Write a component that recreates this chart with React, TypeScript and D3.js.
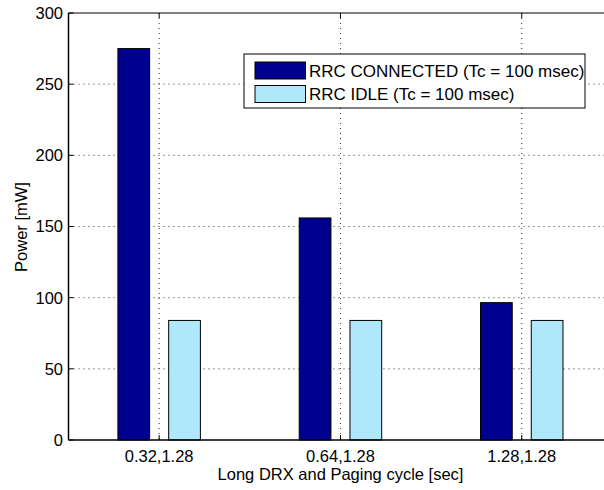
import React from "react";
import * as d3 from "d3";

const categories = ["0.32,1.28", "0.64,1.28", "1.28,1.28"];
const seriesNames = ["RRC CONNECTED (Tc = 100 msec)", "RRC IDLE (Tc = 100 msec)"];
const connectedValues = [275, 156, 96.5];
const idleValues = [84, 84, 84];
const yTicks = [0, 50, 100, 150, 200, 250, 300];
const colors = ["#00008F", "#AEE8FA"];

const W = 604;
const H = 490;
const left = 68.5;
const top = 13;
const bottom = 440;
const FONT = "'Liberation Sans', Arial, Helvetica, sans-serif";

export default function App() {
  const x = d3.scaleLinear().domain([0.5, 3.5]).range([left, left + 3 * 181.3]);
  const y = d3.scaleLinear().domain([0, 300]).range([bottom, top]);
  const right = x(3.5);
  const unit = x(1) - x(0);
  const barW = 0.175 * unit;
  const offsets = [-0.14, 0.14];
  const series = [connectedValues, idleValues];

  return (
    <svg
      width={W}
      height={H}
      style={{ position: "absolute", left: 0, top: 0, display: "block", background: "#fff" }}
      fontFamily={FONT}
    >
      <rect x={0} y={0} width={W} height={H} fill="#fff" />
      {/* grid */}
      {yTicks.slice(1, -1).map((t) => (
        <line key={"gy" + t} x1={left} x2={right} y1={y(t)} y2={y(t)} stroke="#333" strokeWidth={1} strokeDasharray="1,4" />
      ))}
      {categories.map((c, i) => (
        <line key={"gx" + c} x1={x(i + 1)} x2={x(i + 1)} y1={top} y2={bottom} stroke="#333" strokeWidth={1} strokeDasharray="1,4" />
      ))}
      {/* bars */}
      {series.map((vals, s) =>
        vals.map((v, i) => {
          const cx = x(i + 1 + offsets[s]);
          return (
            <rect
              key={"b" + s + "-" + i}
              x={cx - barW / 2}
              y={y(v)}
              width={barW}
              height={y(0) - y(v)}
              fill={colors[s]}
              stroke="#000"
              strokeWidth={1}
            />
          );
        })
      )}
      {/* axes frame */}
      <line x1={left} x2={right} y1={bottom} y2={bottom} stroke="#000" strokeWidth={1.5} />
      <line x1={left} x2={right} y1={top} y2={top} stroke="#000" strokeWidth={1.2} />
      <line x1={left} x2={left} y1={top} y2={bottom} stroke="#000" strokeWidth={1.5} />
      {/* ticks */}
      {yTicks.map((t) => (
        <g key={"yt" + t}>
          <line x1={left} x2={left + 5} y1={y(t)} y2={y(t)} stroke="#000" />
          <text x={63} y={y(t)} dy="0.36em" textAnchor="end" fontSize={16.5} fill="#000">
            {t}
          </text>
        </g>
      ))}
      {categories.map((c, i) => (
        <g key={"xt" + c}>
          <line x1={x(i + 1)} x2={x(i + 1)} y1={bottom} y2={bottom - 5} stroke="#000" />
          <line x1={x(i + 1)} x2={x(i + 1)} y1={top} y2={top + 5} stroke="#000" />
          <text x={x(i + 1)} y={461.5} textAnchor="middle" fontSize={16.5} fill="#000">
            {c}
          </text>
        </g>
      ))}
      <text x={340.5} y={480} textAnchor="middle" fontSize={16.5} fill="#000">
        Long DRX and Paging cycle [sec]
      </text>
      <text transform={`translate(26.5,227) rotate(-90)`} textAnchor="middle" fontSize={16.5} fill="#000">
        Power [mW]
      </text>
      {/* legend */}
      <rect x={244} y={54} width={341} height={54} fill="#fff" stroke="#000" strokeWidth={1} />
      {seriesNames.map((n, i) => (
        <g key={"lg" + i}>
          <rect x={255} y={62 + i * 23.5} width={50.5} height={17} fill={colors[i]} stroke="#000" strokeWidth={1} />
          <text x={309} y={77 + i * 22.5} fontSize={17} fill="#000">
            {n}
          </text>
        </g>
      ))}
    </svg>
  );
}
